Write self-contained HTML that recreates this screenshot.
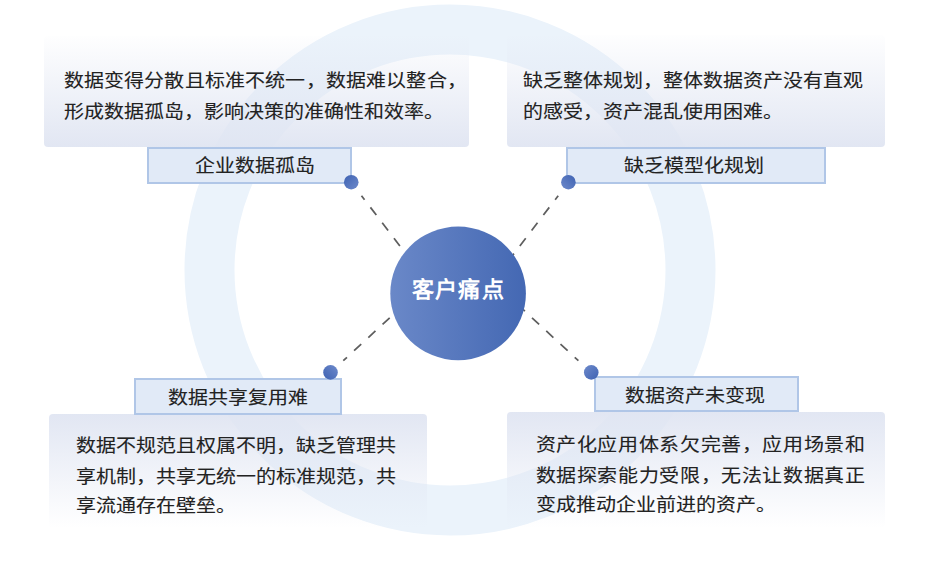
<!DOCTYPE html>
<html lang="zh-CN">
<head>
<meta charset="utf-8">
<style>
html,body{margin:0;padding:0;background:#fff;}
body{width:937px;height:576px;position:relative;overflow:hidden;font-family:"Liberation Sans",sans-serif;color:#222;}
svg{position:absolute;left:0;top:0;}
.box{position:absolute;border-radius:4px;}
.top{background:linear-gradient(to bottom,rgba(234,238,247,0.05),rgba(224,229,242,0.95));}
.bot{background:linear-gradient(to bottom,rgba(224,229,242,0.95),rgba(234,238,247,0.0));}
.txt{position:absolute;font-size:20px;-webkit-text-stroke:0.12px #222;line-height:32.6px;transform:scaleY(0.92);transform-origin:0 0;white-space:nowrap;color:#222;}
.j{text-align:justify;text-align-last:justify;}
.lab{position:absolute;box-sizing:border-box;background:#e1eaf7;border:2px solid #b0c6e7;}
.lt{position:absolute;font-size:20px;-webkit-text-stroke:0.12px #222;line-height:24px;transform:scaleY(0.92);transform-origin:0 0;white-space:nowrap;color:#222;}
.ctext{position:absolute;left:411.5px;top:277.5px;font-size:22px;font-weight:bold;color:#fff;line-height:26px;letter-spacing:1.4px;transform:scaleY(0.96);transform-origin:0 0;white-space:nowrap;}
</style>
</head>
<body>
<svg width="937" height="576" viewBox="0 0 937 576">
  <circle cx="450" cy="270" r="240.5" fill="none" stroke="#ebf3fb" stroke-width="50"/>
</svg>

<div class="box top" style="left:44px;top:36px;width:425px;height:111px;"></div>
<div class="box top" style="left:507px;top:35px;width:378px;height:112px;"></div>
<div class="box bot" style="left:49px;top:413.5px;width:378px;height:114.5px;"></div>
<div class="box bot" style="left:507px;top:412px;width:378px;height:116px;"></div>

<div class="txt" style="left:63.5px;top:66px;width:403.2px;">
  <div class="j">数据变得分散且标准不统一，数据难以整合，</div>
  <div>形成数据孤岛，影响决策的准确性和效率。</div>
</div>
<div class="txt" style="left:523px;top:65.5px;">缺乏整体规划，整体数据资产没有直观<br>的感受，资产混乱使用困难。</div>
<div class="txt" style="left:75.5px;top:430.5px;">数据不规范且权属不明，缺乏管理共<br>享机制，共享无统一的标准规范，共<br>享流通存在壁垒。</div>
<div class="txt" style="left:535.5px;top:429.5px;width:329.5px;">
  <div class="j">资产化应用体系欠完善，应用场景和</div>
  <div class="j">数据探索能力受限，无法让数据真正</div>
  <div>变成推动企业前进的资产。</div>
</div>

<div class="lab" style="left:147px;top:147px;width:205px;height:36.7px;"></div>
<div class="lt" style="left:195px;top:155px;">企业数据孤岛</div>
<div class="lab" style="left:566.2px;top:147.3px;width:260.2px;height:36.5px;"></div>
<div class="lt" style="left:624px;top:155px;">缺乏模型化规划</div>
<div class="lab" style="left:134px;top:378px;width:207.8px;height:37px;"></div>
<div class="lt" style="left:168px;top:387px;">数据共享复用难</div>
<div class="lab" style="left:593.5px;top:376px;width:205px;height:36.2px;"></div>
<div class="lt" style="left:625px;top:385px;">数据资产未变现</div>

<svg width="937" height="576" viewBox="0 0 937 576">
  <defs>
    <linearGradient id="cg" x1="0" y1="0" x2="1" y2="0">
      <stop offset="0" stop-color="#6a88c8"/>
      <stop offset="1" stop-color="#4468b3"/>
    </linearGradient>
    <linearGradient id="d1" x1="0" y1="0" x2="1" y2="1">
      <stop offset="0" stop-color="#3e62b2"/>
      <stop offset="1" stop-color="#6e8acb"/>
    </linearGradient>
    <linearGradient id="d2" x1="1" y1="0" x2="0" y2="1">
      <stop offset="0" stop-color="#3e62b2"/>
      <stop offset="1" stop-color="#6e8acb"/>
    </linearGradient>
    <linearGradient id="d3" x1="0" y1="1" x2="1" y2="0">
      <stop offset="0" stop-color="#3e62b2"/>
      <stop offset="1" stop-color="#6e8acb"/>
    </linearGradient>
    <linearGradient id="d4" x1="1" y1="1" x2="0" y2="0">
      <stop offset="0" stop-color="#3e62b2"/>
      <stop offset="1" stop-color="#6e8acb"/>
    </linearGradient>
  </defs>
  <g stroke="#5e5e5e" stroke-width="1.75" fill="none" stroke-dasharray="9.7 9.7">
    <line x1="361.5" y1="195.7" x2="458" y2="322" stroke-dashoffset="4.7"/>
    <line x1="558.2" y1="195.7" x2="461.7" y2="322" stroke-dashoffset="4.7"/>
    <line x1="343.3" y1="360.7" x2="460" y2="252.7" stroke-dashoffset="4.7"/>
    <line x1="578.4" y1="360.7" x2="461.7" y2="252.7" stroke-dashoffset="4.7"/>
  </g>
  <ellipse cx="458.1" cy="293.4" rx="67.8" ry="66.8" fill="url(#cg)"/>
  <circle cx="351.25" cy="182.2" r="7.3" fill="url(#d1)"/>
  <circle cx="568.4" cy="182.2" r="7.3" fill="url(#d2)"/>
  <circle cx="330.5" cy="372.4" r="7.3" fill="url(#d3)"/>
  <circle cx="591.25" cy="372.4" r="7.3" fill="url(#d4)"/>
</svg>
<div class="ctext">客户痛点</div>
</body>
</html>
